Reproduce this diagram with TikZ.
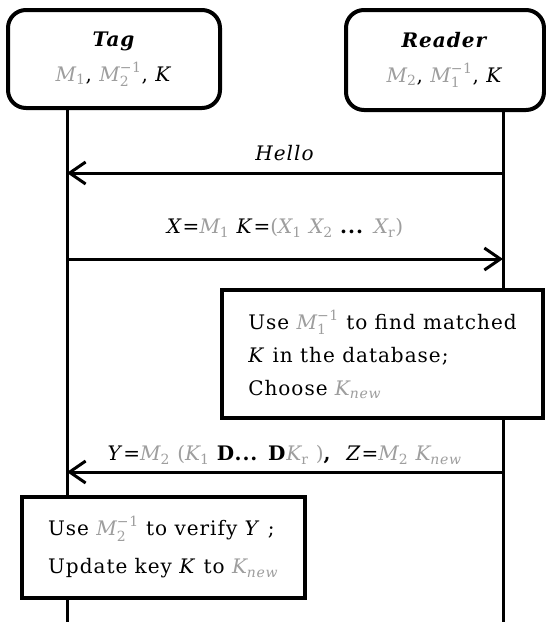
\documentclass[tikz,border=0pt]{standalone}
\usepackage{fontspec}
\usepackage{amsmath}
\setmainfont{DejaVu Serif}[LetterSpace=5]
\usetikzlibrary{arrows.meta}

\definecolor{keygray}{gray}{0.62}
\newcommand{\gk}[1]{\textcolor{keygray}{#1}}
\newcommand{\ks}[2]{$\textit{#1}_{\text{#2}}$}
\newcommand{\kinv}[2]{$\textit{#1}_{\text{#2}}^{\text{−1}}$}

\begin{document}
\begin{tikzpicture}[x=1pt,y=-1pt,
    every node/.style={font=\fontsize{20}{33}\selectfont},
    party/.style={draw, line width=4pt, rounded corners=18pt, align=center, inner sep=0pt},
    actbox/.style={draw, fill=white, line width=3.5pt, align=left, inner sep=0pt},
    life/.style={line width=3pt},
    msg/.style={line width=3pt, -{Straight Barb[length=16pt,width=22pt]}}]
    \useasboundingbox (0,0) rectangle (546,622);

    \node[party, minimum width=212pt, minimum height=98pt] (tag) at (114,59)
        {\textbf{\textit{Tag}}\\[2pt] \gk{\ks{M}{1}}, \gk{\kinv{M}{2}}, \textit{K}};
    \node[party, minimum width=198pt, minimum height=100pt] (reader) at (445,60)
        {\textbf{\textit{Reader}}\\[2pt] \gk{\ks{M}{2}}, \gk{\kinv{M}{1}}, \textit{K}};

    % lifelines
    \coordinate (tagbot) at (67,622);
    \coordinate (rdrbot) at (503,622);
    \draw[life] (tag.south -| tagbot) -- (tagbot);
    \draw[life] (reader.south -| rdrbot) -- (rdrbot);

    \node[actbox, minimum width=321pt, minimum height=128pt] (lookup) at (382.5,354)
        {Use \gk{\kinv{M}{1}} to find matched\\
         \textit{K} in the database;\\
         Choose \gk{\ks{K}{\textit{new}}}};
    \node[actbox, minimum width=283pt, minimum height=101pt] (verify) at (163.5,547.5)
        {Use \gk{\kinv{M}{2}} to verify \textit{Y} ;\\[5pt]
         Update key \textit{K} to \gk{\ks{K}{\textit{new}}}};

    % messages
    \coordinate (hellor) at (503,173);
    \coordinate (hellot) at (67,173);
    \draw[msg] (hellor) -- node[midway, yshift=20pt] (hello) {\textit{Hello}} (hellot);

    \coordinate (xt) at (67,259);
    \coordinate (xr) at (503,259);
    \draw[msg] (xt) -- node[midway, yshift=31pt] (xmsg)
        {\textit{X}=\gk{\ks{M}{1}} \textit{K}=\gk{(\ks{X}{1} \ks{X}{2}} \textbf{...} \gk{\ks{X}{r})}} (xr);

    \coordinate (yr) at (503,472);
    \coordinate (yt) at (67,472);
    \draw[msg] (yr) -- node[midway, yshift=17pt] (ymsg)
        {\textit{Y}=\gk{\ks{M}{2} (\ks{K}{1}} \textbf{D... D}\gk{\ks{K}{r} )}\textbf{,}\ \ \textit{Z}=\gk{\ks{M}{2} \ks{K}{\textit{new}}}} (yt);
\end{tikzpicture}
\end{document}
